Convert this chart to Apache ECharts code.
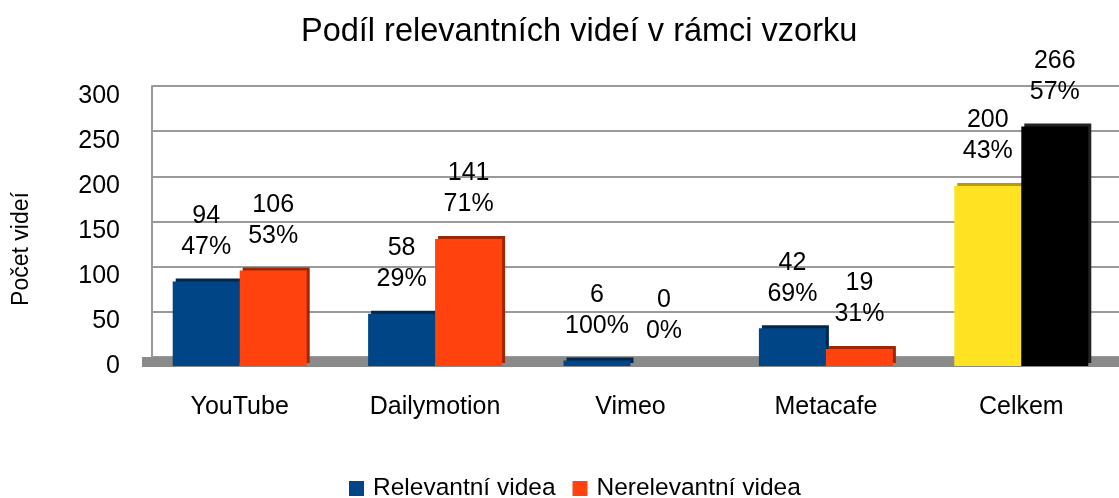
<!DOCTYPE html>
<html>
<head>
<meta charset="utf-8">
<script src="https://cdn.jsdelivr.net/npm/echarts@6/dist/echarts.min.js"></script>
<style>
  html, body { margin: 0; padding: 0; background: #fff; }
  #chart { width: 1119px; height: 498px; }
</style>
</head>
<body>
<div id="chart"></div>
<script>
const categories = ['YouTube', 'Dailymotion', 'Vimeo', 'Metacafe', 'Celkem']
const relevant = [94, 58, 6, 42, 200]
const relevantPct = [47, 29, 100, 69, 43]
const nonRelevant = [106, 141, 0, 19, 266]
const nonRelevantPct = [53, 71, 0, 31, 57]
const yTicks = [0, 50, 100, 150, 200, 250, 300]

const font = 'Liberation Sans, Arial, sans-serif'
const lastIdx = categories.length - 1

// Celkem bars get their own colours (yellow / black)
const makeData = (vals, total) =>
  vals.map((v, i) => {
    if (i !== lastIdx) return v
    return {
      value: v,
      itemStyle: { color: total.color, shadowColor: total.side }
    }
  })

const barLabel = pct => ({
  show: true,
  position: 'top',
  distance: 19,
  color: '#000',
  fontFamily: font,
  fontSize: 25,
  lineHeight: 31,
  formatter: p => `${p.value}\n${pct[p.dataIndex]}%`
})

const chart = echarts.init(document.getElementById('chart'))

chart.setOption({
  animation: false,
  backgroundColor: '#fff',
  title: {
    text: 'Podíl relevantních videí v rámci vzorku',
    left: 296,
    top: 11,
    textStyle: { fontFamily: font, fontSize: 32.5, fontWeight: 'normal', color: '#000' }
  },
  legend: {
    top: 476,
    left: 349,
    icon: 'rect',
    itemWidth: 15,
    itemHeight: 15,
    itemGap: 17,
    padding: 0,
    textStyle: { fontFamily: font, fontSize: 24.5, color: '#000', padding: [0, 0, 0, 4] },
    data: ['Relevantní videa', 'Nerelevantní videa']
  },
  grid: [
    // back wall (grid lines)
    { left: 152, right: -10, top: 86, bottom: 141 },
    // front plane (bars + labels)
    { left: 142, right: -1, top: 96, bottom: 132 }
  ],
  xAxis: [
    {
      gridIndex: 0,
      type: 'category',
      data: categories,
      show: false
    },
    {
      gridIndex: 1,
      type: 'category',
      data: categories,
      offset: -4,
      axisTick: { show: false },
      axisLine: { lineStyle: { color: '#8a8a8a', width: 10, cap: 'butt' } },
      axisLabel: { color: '#000', fontFamily: font, fontSize: 25, margin: 33 }
    }
  ],
  yAxis: [
    {
      gridIndex: 0,
      type: 'value',
      min: yTicks[0],
      max: yTicks[yTicks.length - 1],
      interval: 50,
      axisLabel: { show: false },
      axisTick: { show: false },
      axisLine: { show: true, lineStyle: { color: '#999', width: 2 } },
      splitLine: { lineStyle: { color: '#9a9a9a', width: 2 } }
    },
    {
      gridIndex: 1,
      type: 'value',
      min: yTicks[0],
      max: yTicks[yTicks.length - 1],
      interval: 50,
      name: 'Počet videí',
      nameLocation: 'middle',
      nameGap: 109,
      nameTextStyle: { fontFamily: font, fontSize: 23, color: '#000', padding: [0, 0, 0, -36] },
      axisLine: { show: false },
      axisTick: { show: false },
      splitLine: { show: false },
      axisLabel: { color: '#000', fontFamily: font, fontSize: 25, margin: 22 }
    }
  ],
  series: [
    {
      name: 'Relevantní videa',
      type: 'bar',
      xAxisIndex: 1,
      yAxisIndex: 1,
      barWidth: 67,
      barGap: '0%',
      itemStyle: {
        color: '#004586',
        shadowColor: '#00284e',
        shadowBlur: 0,
        shadowOffsetX: 3,
        shadowOffsetY: -3
      },
      label: barLabel(relevantPct),
      data: makeData(relevant, { color: '#ffe323', side: '#b89c00' })
    },
    {
      name: 'Nerelevantní videa',
      type: 'bar',
      xAxisIndex: 1,
      yAxisIndex: 1,
      barWidth: 67,
      barGap: '0%',
      itemStyle: {
        color: '#ff420e',
        shadowColor: '#a02600',
        shadowBlur: 0,
        shadowOffsetX: 3,
        shadowOffsetY: -3
      },
      label: barLabel(nonRelevantPct),
      data: makeData(nonRelevant, { color: '#000000', side: '#222222' })
    }
  ]
})
</script>
</body>
</html>
